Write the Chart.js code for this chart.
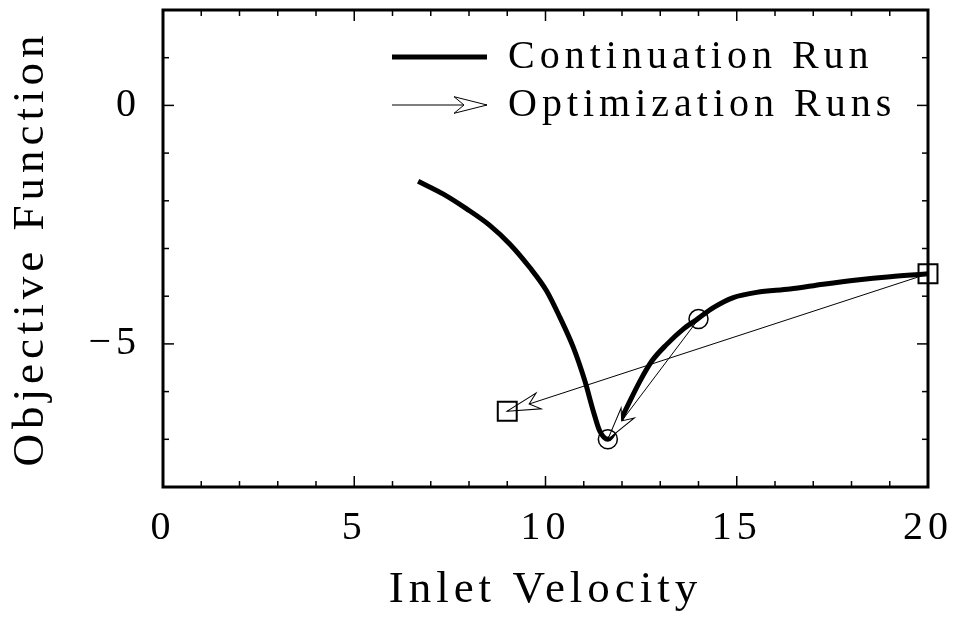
<!DOCTYPE html>
<html>
<head>
<meta charset="utf-8">
<script src="https://cdn.jsdelivr.net/npm/chart.js@4.4.1/dist/chart.umd.min.js"></script>
<style>
  html, body { margin: 0; padding: 0; background: #fff; }
</style>
</head>
<body>
<canvas id="chart" width="953" height="617"></canvas>
<script>
// continuation run
const curveX = [6.67, 7.33, 7.94, 8.55, 9.07, 9.59, 10.03, 10.38, 10.73, 11.03, 11.25, 11.42, 11.63, 11.86, 12.12, 12.47, 12.78, 13.17, 13.60, 13.97, 14.39, 14.91, 15.52, 16.39, 17.26, 18.14, 19.01, 20.0]
const curveY = [-1.59, -1.86, -2.17, -2.52, -2.91, -3.40, -3.89, -4.45, -5.08, -5.78, -6.41, -6.83, -7.00, -6.76, -6.34, -5.78, -5.36, -5.01, -4.69, -4.48, -4.24, -4.03, -3.92, -3.85, -3.75, -3.66, -3.59, -3.53]

// optimization runs (start -> end)
const runAX = [20, 9]
const runAY = [-3.53, -6.41]
const runBX = [14, 11.63]
const runBY = [-4.48, -7.0]

const xTicks = [0, 5, 10, 15, 20]
const yTicks = [0, -5]

const FONT = {family: '"Liberation Serif", serif', size: 40}
const TITLE_FONT = {family: '"Liberation Serif", serif', size: 45}

const pts = (xs, ys) => xs.map((x, i) => ({x: x, y: ys[i]}))

// open notched arrow head, tip at (bx,by)
const arrowHead = (ctx, ax, ay, bx, by) => {
  const ang = Math.atan2(by - ay, bx - ax)
  ctx.save()
  ctx.translate(bx, by)
  ctx.rotate(ang)
  ctx.beginPath()
  ctx.moveTo(0, 0)
  ctx.lineTo(-33, -8.3)
  ctx.lineTo(-23, 0)
  ctx.lineTo(-33, 8.3)
  ctx.closePath()
  ctx.fillStyle = '#fff'
  ctx.fill()
  ctx.lineWidth = 1
  ctx.strokeStyle = '#000'
  ctx.stroke()
  ctx.restore()
}

// keep the plot box where the reference has it
const fixBox = (s) => {
  s.paddingTop = 0
  s.paddingBottom = 0
  s.paddingLeft = 0
  s.paddingRight = 0
}

const decor = {
  id: 'decor',
  beforeDraw(chart) {
    chart.ctx.letterSpacing = '5px'
  },
  afterDatasetDraw(chart, args) {
    const ds = chart.data.datasets[args.index]
    if (!ds.arrow) return
    const p = args.meta.data
    arrowHead(chart.ctx, p[0].x, p[0].y, p[1].x, p[1].y)
  },
  afterDraw(chart) {
    const {ctx, chartArea: ca, scales: {x, y}} = chart
    const seg = (x0, y0, x1, y1) => { ctx.beginPath(); ctx.moveTo(x0, y0); ctx.lineTo(x1, y1); ctx.stroke() }
    ctx.save()
    ctx.strokeStyle = '#000'
    ctx.lineWidth = 1.5
    for (let v = x.min + 1; v < x.max; v++) {
      const px = x.getPixelForValue(v)
      const len = v % 5 === 0 ? 11 : 6
      seg(px, ca.bottom, px, ca.bottom - len)
      seg(px, ca.top, px, ca.top + len)
    }
    for (let v = y.min + 1; v < y.max; v++) {
      const py = y.getPixelForValue(v)
      const len = v % 5 === 0 ? 11 : 6
      seg(ca.left, py, ca.left + len, py)
      seg(ca.right, py, ca.right - len, py)
    }
    ctx.lineWidth = 3
    ctx.strokeRect(ca.left, ca.top, ca.right - ca.left, ca.bottom - ca.top)

    // legend
    const lx0 = ca.right - 536, lx1 = ca.right - 441, tx = ca.right - 420
    const r1 = ca.top + 47, r2 = ca.top + 95
    ctx.lineWidth = 5
    seg(lx0, r1, lx1, r1)
    ctx.lineWidth = 1
    seg(lx0, r2, lx1, r2)
    arrowHead(ctx, lx0, r2, lx1, r2)
    ctx.fillStyle = '#000'
    ctx.font = FONT.size + 'px ' + FONT.family
    ctx.letterSpacing = '5px'
    ctx.textAlign = 'left'
    ctx.textBaseline = 'middle'
    ctx.fillText(chart.data.datasets[0].label, tx, r1)
    ctx.fillText(chart.data.datasets[1].label, tx, r2)
    ctx.restore()
  }
}

new Chart(document.getElementById('chart'), {
  type: 'line',
  data: {
    datasets: [
      {
        label: 'Continuation Run',
        data: pts(curveX, curveY),
        borderColor: '#000',
        borderWidth: 5,
        pointRadius: 0,
        cubicInterpolationMode: 'monotone',
        fill: false,
        order: 3
      },
      {
        label: 'Optimization Runs',
        data: pts(runAX, runAY),
        borderColor: '#000',
        borderWidth: 1,
        pointRadius: 0,
        arrow: true,
        order: 2
      },
      {
        label: 'Optimization Runs',
        data: pts(runBX, runBY),
        borderColor: '#000',
        borderWidth: 1,
        pointRadius: 0,
        arrow: true,
        order: 2
      },
      {
        label: 'start/end A',
        data: pts(runAX, runAY),
        showLine: false,
        pointStyle: 'rect',
        pointRadius: 13.4,
        borderColor: '#000',
        backgroundColor: 'rgba(0,0,0,0)',
        pointBorderWidth: 2,
        clip: false,
        order: 1
      },
      {
        label: 'start/end B',
        data: pts(runBX, runBY),
        showLine: false,
        pointStyle: 'circle',
        pointRadius: 9.5,
        borderColor: '#000',
        backgroundColor: 'rgba(0,0,0,0)',
        pointBorderWidth: 1.5,
        clip: false,
        order: 1
      }
    ]
  },
  options: {
    responsive: false,
    animation: false,
    events: [],
    layout: {autoPadding: false, padding: {top: 10, right: 25, left: 0, bottom: 0}},
    plugins: {legend: {display: false}, tooltip: {enabled: false}},
    scales: {
      x: {
        type: 'linear',
        min: 0,
        max: 20,
        afterBuildTicks: s => { s.ticks = xTicks.map(v => ({value: v})) },
        afterFit: s => { s.height = 130; fixBox(s) },
        grid: {display: false, drawTicks: false},
        border: {display: false},
        ticks: {color: '#000', font: FONT, padding: 17, maxRotation: 0, autoSkip: false},
        title: {display: true, text: 'Inlet Velocity', color: '#000', font: TITLE_FONT, padding: {top: 0, bottom: 0}}
      },
      y: {
        type: 'linear',
        min: -8,
        max: 2,
        afterBuildTicks: s => { s.ticks = yTicks.map(v => ({value: v})) },
        afterFit: s => { s.width = 163; fixBox(s) },
        grid: {display: false, drawTicks: false},
        border: {display: false},
        ticks: {color: '#000', font: FONT, padding: 22, autoSkip: false,
          callback: v => (v < 0 ? '\u2212' + Math.abs(v) : String(v))},
        title: {display: true, text: 'Objective Function', color: '#000', font: TITLE_FONT, padding: {top: 4, bottom: 0}}
      }
    }
  },
  plugins: [decor]
})
</script>
</body>
</html>
